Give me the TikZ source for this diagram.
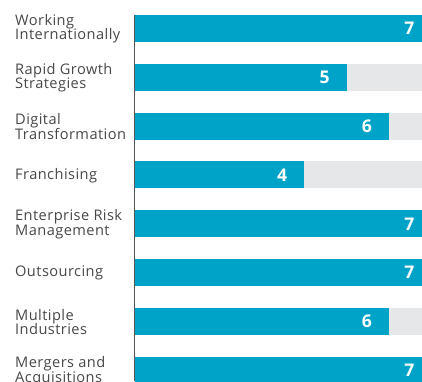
\documentclass[tikz,border=0pt]{standalone}
\usepackage{fontspec}
\setmainfont{Open Sans}
\usepackage{tikz}

\definecolor{barblue}{HTML}{00A3C8}
\definecolor{bargray}{HTML}{E6E7E8}
\definecolor{labelgray}{HTML}{474747}
\definecolor{axisgray}{HTML}{555555}

\begin{document}
\begin{tikzpicture}[x=1pt,y=-1pt,
		catlabel/.style={anchor=west,align=left,inner sep=0pt,text=labelgray,font=\fontsize{14.6}{14.7}\selectfont\addfontfeature{LetterSpace=3}},
		barvalue/.style={anchor=east,inner sep=0pt,text=white,font=\fontsize{17.5}{18}\selectfont\bfseries}]
		\useasboundingbox (0,0) rectangle (422,381);
		\clip (0,0) rectangle (422,381);
		\foreach \name/\val [count=\i] in {{Working\\Internationally}/7,{Rapid Growth\\Strategies}/5,{Digital\\Transformation}/6,{Franchising}/4,{Enterprise Risk\\Management}/7,{Outsourcing}/7,{Multiple\\Industries}/6,{Mergers and\\Acquisitions}/7}
		{
			\pgfmathsetmacro{\yc}{28.3+48.87*(\i-1)}
			\pgfmathsetmacro{\xe}{135+42.35*\val}
			\fill[bargray] (135,\yc-13.5) rectangle (432,\yc+13.5);
			\fill[barblue] (135,\yc-13.5) rectangle (\xe,\yc+13.5);
			\node[catlabel] (cat\i) at (15,\yc+0.5) {\name};
			\node[barvalue] (val\i) at (\xe-17,\yc) {\val};
		}
		\coordinate (axistop) at (134.5,15);
		\coordinate (axisbot) at (134.5,381);
		\draw[axisgray,line width=1pt] (axistop) -- (axisbot);
	\end{tikzpicture}
\end{document}
